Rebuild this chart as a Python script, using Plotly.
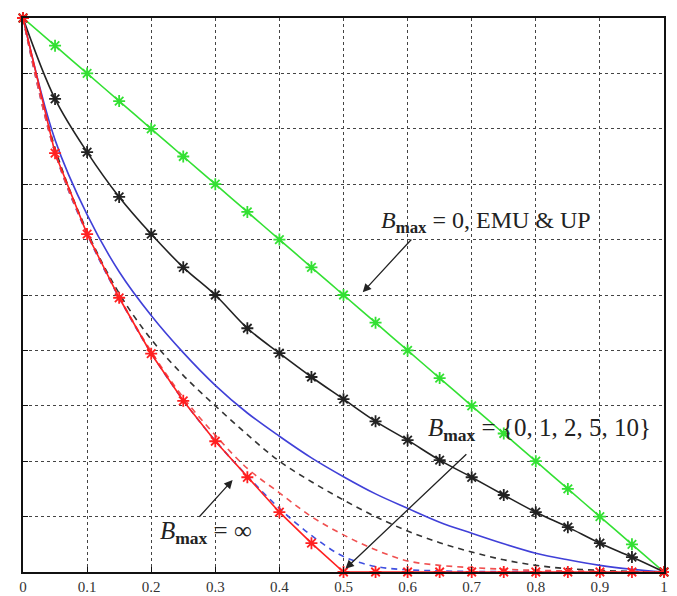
import plotly.graph_objects as go

x = [0, 0.05, 0.1, 0.15, 0.2, 0.25, 0.3, 0.35, 0.4, 0.45, 0.5,
     0.55, 0.6, 0.65, 0.7, 0.75, 0.8, 0.85, 0.9, 0.95, 1]

green_emu_up = [1, 0.95, 0.9, 0.85, 0.8, 0.75, 0.7, 0.65, 0.6, 0.55, 0.5,
                0.45, 0.4, 0.35, 0.3, 0.25, 0.2, 0.15, 0.1, 0.05, 0]
black_b0 = [1, 0.854, 0.758, 0.677, 0.61, 0.55, 0.50, 0.44, 0.395, 0.352, 0.312,
            0.272, 0.238, 0.202, 0.171, 0.139, 0.108, 0.081, 0.052, 0.027, 0]
blue_b1 = [1, 0.78, 0.645, 0.542, 0.463, 0.396, 0.337, 0.287, 0.245, 0.206, 0.172,
           0.141, 0.115, 0.09, 0.07, 0.051, 0.034, 0.022, 0.012, 0.005, 0]
black_b2 = [1, 0.765, 0.615, 0.503, 0.42, 0.355, 0.30, 0.248, 0.2, 0.163, 0.13,
            0.10, 0.074, 0.053, 0.036, 0.022, 0.012, 0.006, 0.003, 0.001, 0]
blue_b5 = [1, 0.757, 0.61, 0.495, 0.395, 0.31, 0.237, 0.173, 0.115, 0.066, 0.028,
           0.01, 0.004, 0.002, 0.001, 0.001, 0.001, 0.0, 0.0, 0.0, 0]
red_b10 = [1, 0.757, 0.612, 0.497, 0.398, 0.315, 0.247, 0.187, 0.143, 0.10, 0.067,
           0.04, 0.02, 0.012, 0.008, 0.005, 0.003, 0.002, 0.001, 0.0, 0]
red_inf = [1, 0.756, 0.61, 0.495, 0.394, 0.309, 0.236, 0.171, 0.108, 0.052, 0,
           0, 0, 0, 0, 0, 0, 0, 0, 0, 0]

xtick_vals = [0, 0.1, 0.2, 0.3, 0.4, 0.5, 0.6, 0.7, 0.8, 0.9, 1]
xtick_text = ["0", "0.1", "0.2", "0.3", "0.4", "0.5", "0.6", "0.7", "0.8", "0.9", "1"]

fig = go.Figure()

def add(y, color, dash="solid", markers=False):
    fig.add_trace(go.Scatter(
        x=x, y=y, mode="lines+markers" if markers else "lines",
        line=dict(color=color, width=1.6, dash=dash, shape="spline", smoothing=1.0),
        marker=dict(symbol="asterisk-open", size=10,
                    line=dict(color=color, width=1.8)) if markers else None,
        cliponaxis=False, showlegend=False))

add(green_emu_up, "#33e033", markers=True)
add(black_b0, "#222222", markers=True)
add(blue_b1, "#4040d8")
add(black_b2, "#333333", dash="6px,5px")
add(blue_b5, "#4050e0", dash="6px,5px")
add(red_b10, "#f05050", dash="6px,5px")
fig.add_trace(go.Scatter(
    x=x, y=red_inf, mode="lines+markers",
    line=dict(color="#ff2020", width=1.6),
    marker=dict(symbol="asterisk-open", size=10, line=dict(color="#ff2020", width=1.8)),
    cliponaxis=False, showlegend=False))

serif = "Liberation Serif, DejaVu Serif, serif"
tf = dict(family=serif, size=24, color="#222")
sp = "\u00a0"
ann = [
    dict(x=0.722, y=0.632, text="<i>B</i><sub><b>max</b></sub> = 0, EMU &amp; UP",
         showarrow=False, font=tf),
    dict(x=0.805, y=0.258,
         text=f"<i>B</i><sub><b>max</b></sub>{sp}={sp}{{0,{sp}1,{sp}2,{sp}5,{sp}10}}",
         showarrow=False, font=dict(family=serif, size=25, color="#222")),
    dict(x=0.286, y=0.072, text=f"<i>B</i><sub><b>max</b></sub>{sp}={sp}∞",
         showarrow=False, font=dict(family=serif, size=25, color="#222")),
    dict(x=0.530, y=0.505, ax=0.608, ay=0.603, axref="x", ayref="y", xref="x", yref="y",
         text="", showarrow=True, arrowhead=2, arrowsize=1.3, arrowwidth=1.3, arrowcolor="#222"),
    dict(x=0.503, y=0.006, ax=0.694, ay=0.215, axref="x", ayref="y", xref="x", yref="y",
         text="", showarrow=True, arrowhead=2, arrowsize=1.3, arrowwidth=1.3, arrowcolor="#222"),
    dict(x=0.327, y=0.166, ax=0.273, ay=0.097, axref="x", ayref="y", xref="x", yref="y",
         text="", showarrow=True, arrowhead=2, arrowsize=1.3, arrowwidth=1.3, arrowcolor="#222"),
]
fig.update_layout(annotations=ann)

axis_common = dict(
    range=[0, 1], showgrid=True, gridcolor="#444", griddash="dot", gridwidth=1,
    showline=True, linecolor="#111", linewidth=1.8, mirror=True,
    ticks="inside", ticklen=5, tickcolor="#111", zeroline=False,
)
fig.update_xaxes(**axis_common, tickvals=xtick_vals, ticktext=xtick_text,
                 ticklabelstandoff=0,
                 tickfont=dict(family=serif, size=15, color="#333"))
fig.update_yaxes(**axis_common, dtick=0.1, tick0=0, showticklabels=False)

fig.update_layout(
    width=669, height=588,
    margin=dict(l=15, r=13, t=10, b=24, autoexpand=False),
    plot_bgcolor="white", paper_bgcolor="white",
)

fig.write_html("out.html")
